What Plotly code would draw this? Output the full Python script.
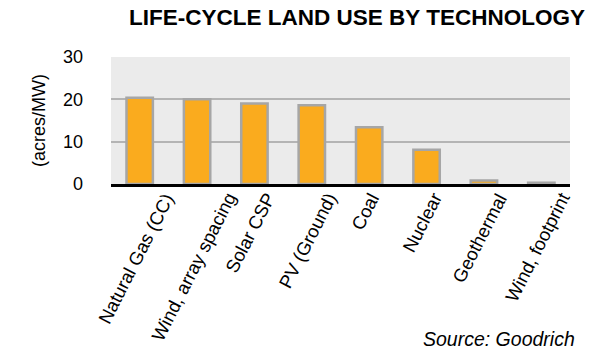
import plotly.graph_objects as go

# Life-cycle land use (acres/MW) by generation technology
technologies = [
    "Natural Gas (CC)",
    "Wind, array spacing",
    "Solar CSP",
    "PV (Ground)",
    "Coal",
    "Nuclear",
    "Geothermal",
    "Wind, footprint",
]
land_use = [20.4, 20.0, 19.0, 18.6, 13.4, 8.1, 0.8, 0.3]
y_ticks = [0, 10, 20, 30]

FONT = "Arial, 'Liberation Sans', Helvetica, sans-serif"

fig = go.Figure(
    go.Bar(
        x=technologies,
        y=land_use,
        marker=dict(color="#FAAB1E", line=dict(color="#A6A6A6", width=2.5)),
        hoverinfo="x+y",
    )
)

# Slanted category labels, each centred under its column
category_labels = [
    dict(
        text=name,
        xref="x",
        yref="y",
        x=name,
        y=0,
        xanchor="center",
        yanchor="top",
        xshift=-4,
        yshift=-3,
        textangle=-63,
        showarrow=False,
        font=dict(size=18.5, family=FONT, color="black"),
    )
    for name in technologies
]

fig.update_layout(
    width=599,
    height=355,
    margin=dict(l=111, r=29, t=57, b=171),
    paper_bgcolor="white",
    plot_bgcolor="#EBEBEB",
    bargap=0.54,
    showlegend=False,
    font=dict(family=FONT, color="black"),
    title=dict(
        text="<b>LIFE-CYCLE LAND USE BY TECHNOLOGY</b>",
        x=0.596,
        xanchor="center",
        y=0.952,
        yanchor="middle",
        font=dict(size=22.5, family=FONT, color="black"),
    ),
    xaxis=dict(
        range=[-0.5, len(technologies) - 0.5],
        showticklabels=False,
        showgrid=False,
        showline=True,
        linecolor="black",
        linewidth=2.5,
        ticks="",
    ),
    yaxis=dict(
        range=[0, 30],
        tickvals=y_ticks,
        tickfont=dict(size=18),
        showgrid=True,
        gridcolor="#B4B4B4",
        gridwidth=2,
        zeroline=False,
        showline=False,
        ticks="",
        ticklabelstandoff=27,
        title=dict(text="(acres/MW)", font=dict(size=18), standoff=12),
    ),
    annotations=category_labels
    + [
        dict(
            text="<i>Source: Goodrich</i>",
            xref="paper",
            yref="paper",
            x=1.015,
            y=-1.22,
            xanchor="right",
            yanchor="middle",
            showarrow=False,
            font=dict(size=19.5, family=FONT, color="black"),
        )
    ],
)

fig.write_html("out.html")
